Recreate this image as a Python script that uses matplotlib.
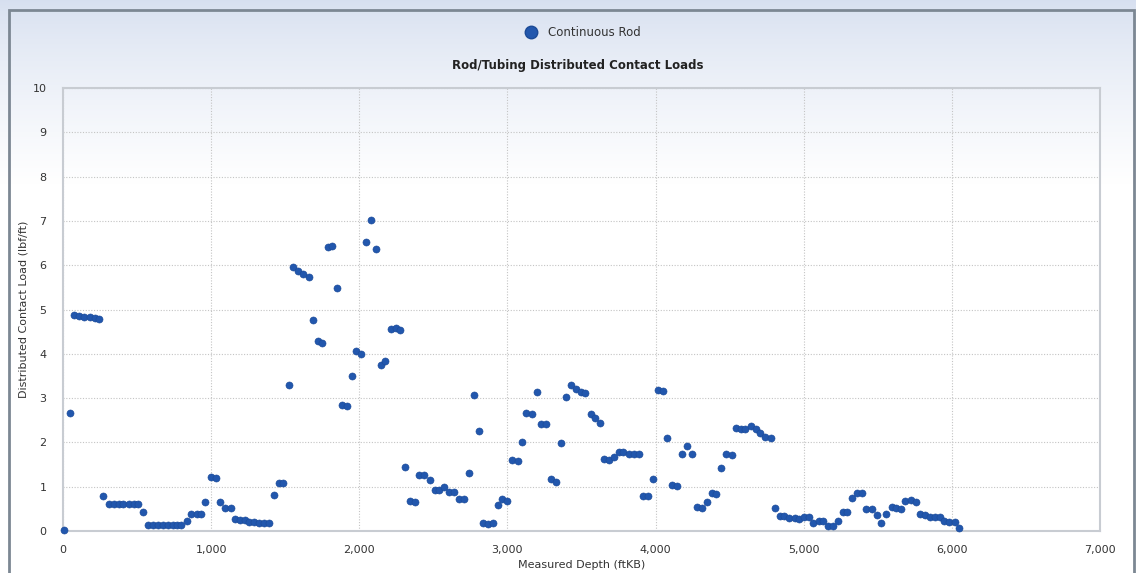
import matplotlib
matplotlib.use("Agg")
import matplotlib.pyplot as plt
import matplotlib.ticker as mtick
from matplotlib.patches import Rectangle
from matplotlib.lines import Line2D
import numpy as np

# ----------------------------------------------------------
# Contact load survey along the continuous rod string
# ----------------------------------------------------------
depth_ft = [
    8, 47, 76, 110, 141, 182, 214, 245, 272, 313,
    345, 376, 407, 448, 479, 508, 538, 574, 610, 641,
    673, 709, 741, 772, 799, 835, 866, 902, 934, 961,
    999, 1033, 1060, 1092, 1132, 1163, 1195, 1227, 1258, 1290,
    1326, 1357, 1393, 1427, 1456, 1488, 1527, 1555, 1589, 1620,
    1659, 1687, 1720, 1751, 1787, 1818, 1850, 1881, 1915, 1949,
    1980, 2014, 2043, 2082, 2113, 2145, 2176, 2215, 2246, 2277,
    2309, 2345, 2379, 2406, 2440, 2478, 2510, 2541, 2573, 2606,
    2640, 2674, 2705, 2743, 2773, 2805, 2833, 2869, 2903, 2935,
    2966, 2998, 3034, 3068, 3095, 3126, 3167, 3197, 3225, 3259,
    3295, 3329, 3360, 3392, 3428, 3462, 3495, 3525, 3563, 3592,
    3624, 3653, 3689, 3722, 3754, 3783, 3820, 3856, 3889, 3914,
    3948, 3984, 4015, 4049, 4078, 4114, 4148, 4177, 4211, 4249,
    4279, 4313, 4344, 4378, 4411, 4443, 4475, 4513, 4543, 4577,
    4607, 4643, 4675, 4708, 4740, 4776, 4805, 4837, 4870, 4900,
    4938, 4970, 4999, 5033, 5066, 5100, 5131, 5165, 5201, 5231,
    5262, 5294, 5329, 5363, 5395, 5422, 5462, 5494, 5523, 5555,
    5593, 5624, 5656, 5687, 5726, 5757, 5787, 5818, 5850, 5886,
    5917, 5949, 5983, 6018, 6050,
]

contact_load = [
    0.02, 2.67, 4.87, 4.85, 4.84, 4.82, 4.80, 4.79, 0.78, 0.60,
    0.60, 0.60, 0.60, 0.60, 0.60, 0.60, 0.44, 0.13, 0.13, 0.13,
    0.13, 0.13, 0.13, 0.13, 0.13, 0.23, 0.38, 0.38, 0.38, 0.65,
    1.21, 1.19, 0.65, 0.51, 0.51, 0.28, 0.25, 0.25, 0.20, 0.20,
    0.18, 0.18, 0.18, 0.82, 1.08, 1.08, 3.29, 5.95, 5.87, 5.80,
    5.74, 4.76, 4.29, 4.24, 6.41, 6.44, 5.49, 2.84, 2.82, 3.49,
    4.06, 4.00, 6.52, 7.01, 6.37, 3.75, 3.83, 4.55, 4.58, 4.53,
    1.44, 0.68, 0.65, 1.26, 1.26, 1.14, 0.93, 0.93, 0.99, 0.88,
    0.88, 0.72, 0.72, 1.32, 3.08, 2.25, 0.17, 0.15, 0.17, 0.59,
    0.73, 0.67, 1.60, 1.58, 2.02, 2.66, 2.63, 3.13, 2.41, 2.41,
    1.17, 1.11, 1.99, 3.03, 3.29, 3.21, 3.14, 3.11, 2.64, 2.54,
    2.43, 1.63, 1.60, 1.68, 1.79, 1.79, 1.74, 1.74, 1.74, 0.80,
    0.78, 1.17, 3.19, 3.16, 2.10, 1.03, 1.01, 1.74, 1.92, 1.74,
    0.55, 0.52, 0.65, 0.86, 0.83, 1.43, 1.74, 1.71, 2.33, 2.30,
    2.30, 2.36, 2.30, 2.21, 2.12, 2.09, 0.52, 0.34, 0.34, 0.29,
    0.29, 0.26, 0.32, 0.32, 0.18, 0.23, 0.23, 0.11, 0.11, 0.23,
    0.44, 0.44, 0.75, 0.86, 0.86, 0.49, 0.49, 0.37, 0.18, 0.38,
    0.54, 0.52, 0.49, 0.67, 0.71, 0.65, 0.39, 0.36, 0.31, 0.32,
    0.32, 0.23, 0.20, 0.20, 0.07,
]

series_name = "Continuous Rod"
chart_title = "Rod/Tubing Distributed Contact Loads"

marker_color = "#2257ad"
text_color = "#333333"

plt.rcParams["font.family"] = ["DejaVu Sans"]

fig = plt.figure(figsize=(11.36, 5.73), dpi=100)

# ----------------------------------------------------------
# Panel background: pale blue fading to white, grey frame
# ----------------------------------------------------------
bg = fig.add_axes([0, 0, 1, 1], zorder=-10)
grad = np.linspace(0, 1, 512).reshape(-1, 1)
top_rgb = np.array([0.84, 0.875, 0.94])
white = np.array([1.0, 1.0, 1.0])
fade = np.clip(grad / 0.32, 0, 1) ** 0.75
img = top_rgb * (1 - fade) + white * fade
bg.imshow(img[:, None, :].repeat(2, axis=1), aspect="auto",
          extent=[0, 1, 0, 1], origin="upper")
bg.set_xlim(0, 1)
bg.set_ylim(0, 1)
bg.axis("off")
bg.add_patch(Rectangle((9 / 1136, -0.05), (1134 - 9) / 1136, 1.05 - 10 / 573,
                       fill=False, edgecolor="#7c8793", linewidth=2.0))

# ----------------------------------------------------------
# Scatter plot
# ----------------------------------------------------------
ax = fig.add_axes([63 / 1136, 1 - 531 / 573, (1100 - 63) / 1136, (531 - 88) / 573])
ax.patch.set_alpha(0.0)

ax.scatter(depth_ft, contact_load, s=26, color=marker_color,
           edgecolors="#1b4a96", linewidths=0.4, zorder=3, clip_on=False)

ax.set_xlim(0, 7000)
ax.set_ylim(0, 10)
ax.xaxis.set_major_locator(mtick.MultipleLocator(1000))
ax.yaxis.set_major_locator(mtick.MultipleLocator(1))
ax.xaxis.set_major_formatter(mtick.FuncFormatter(lambda v, p: f"{int(v):,}"))

ax.grid(True, linestyle=(0, (1, 1.5)), color="#c4c4c4", linewidth=0.8, zorder=1)
ax.tick_params(length=0, pad=12, labelsize=8, colors=text_color)
ax.tick_params(axis="x", pad=10)

for side in ["top", "right", "bottom", "left"]:
    ax.spines[side].set_color("#c8ccd2")
    ax.spines[side].set_linewidth(1.5)

ax.set_xlabel("Measured Depth (ftKB)", fontsize=8, color=text_color, labelpad=4)
ax.set_ylabel("Distributed Contact Load (lbf/ft)", fontsize=8, color=text_color, labelpad=3)

# Title and legend sit above the plot area
fig.text(578 / 1136, 1 - 66 / 573, chart_title, ha="center", va="center",
         fontsize=8.5, fontweight="bold", color="#222222")

handle = Line2D([], [], marker="o", linestyle="none", markersize=9,
                markerfacecolor=marker_color, markeredgecolor="#1b4a96")
fig.legend([handle], [series_name], loc="center",
           bbox_to_anchor=(580 / 1136, 1 - 33 / 573), frameon=False,
           fontsize=8.5, handletextpad=0.4, labelcolor=text_color)

fig.savefig("out.png", dpi=100)
